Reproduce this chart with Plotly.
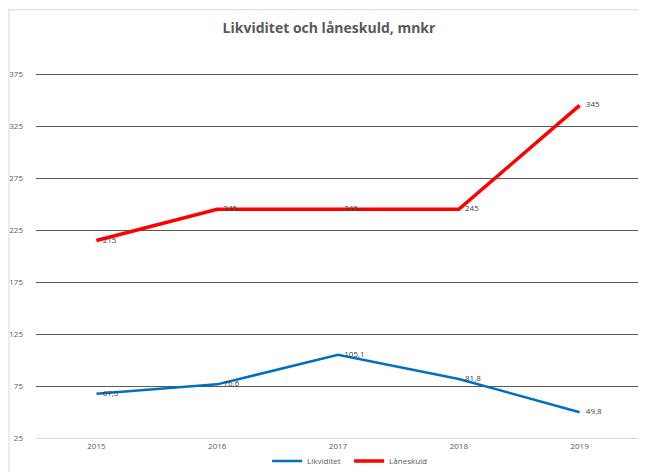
import plotly.graph_objects as go

years = ["2015", "2016", "2017", "2018", "2019"]
likviditet = [67.5, 76.6, 105.1, 81.8, 49.8]
laneskuld = [215, 245, 245, 245, 345]
y_ticks = [25, 75, 125, 175, 225, 275, 325, 375]

def fmt(v):
    s = ("%g" % v)
    return "\u00a0\u00a0\u00a0" + s.replace(".", ",")

# page has an 8px body margin, so the figure is placed at (8, 8)
OFF = 8
Y_MIN, Y_MAX = 25, 380
PX_PER_UNIT = 52 / 50
W, H = 646 - OFF, 472 - OFF
L, R = 35.5 - OFF, 5.5
B = 34
T = (438 - (Y_MAX - Y_MIN) * PX_PER_UNIT) - OFF
pw = W - L - R
ph = H - T - B

def px(x):  # page x -> paper
    return (x - OFF - L) / pw

def py(y):  # page y -> paper
    return (H - B - (y - OFF)) / ph

fig = go.Figure()
fig.add_trace(go.Scatter(
    x=years, y=likviditet, mode="lines+text", name="Likviditet",
    line=dict(color="#0070C0", width=2.5),
    text=[fmt(v) for v in likviditet], textposition="middle right",
    textfont=dict(size=8, color="#404040", family="Open Sans"),
))
fig.add_trace(go.Scatter(
    x=years, y=laneskuld, mode="lines+text", name="Låneskuld",
    line=dict(color="#FF0000", width=3.5),
    text=[fmt(v) for v in laneskuld], textposition="middle right",
    textfont=dict(size=8, color="#404040", family="Open Sans"),
))

fig.update_layout(
    width=W, height=H,
    margin=dict(l=L, r=R, t=T, b=B, pad=0, autoexpand=False),
    paper_bgcolor="white", plot_bgcolor="white",
    title=dict(text="<b>Likviditet och låneskuld, mnkr</b>", x=px(329), xref="paper",
               xanchor="center", y=1 - (28 - OFF) / H, yanchor="middle",
               font=dict(family="Open Sans", size=14, color="#595959")),
    xaxis=dict(type="category", range=[-0.5, 4.5], showgrid=False,
               showline=True, linecolor="#d9d9d9", linewidth=1,
               ticks="", tickfont=dict(size=8, color="#595959", family="Open Sans"),
               fixedrange=True),
    yaxis=dict(range=[Y_MIN, Y_MAX], tickvals=y_ticks, ticktext=[str(v) for v in y_ticks],
               showgrid=True, gridcolor="#595959", gridwidth=1, zeroline=False,
               showline=False, ticks="", ticklabelstandoff=12,
               tickfont=dict(size=8, color="#595959", family="Open Sans")),
    legend=dict(orientation="h", x=px(267), xanchor="left", y=py(461), yanchor="middle",
                font=dict(size=8, color="#595959", family="Open Sans"),
                itemwidth=30, entrywidth=37, entrywidthmode="pixels",
                bgcolor="rgba(0,0,0,0)"),
    showlegend=True,
    shapes=[
        dict(type="line", xref="paper", yref="paper", x0=px(8), x1=px(646), y0=py(9.5), y1=py(9.5),
             line=dict(color="#d9d9d9", width=1)),
        dict(type="line", xref="paper", yref="paper", x0=px(8.5), x1=px(8.5), y0=py(9), y1=py(472),
             line=dict(color="#d9d9d9", width=1)),
    ],
)

fig.write_html("out.html")
